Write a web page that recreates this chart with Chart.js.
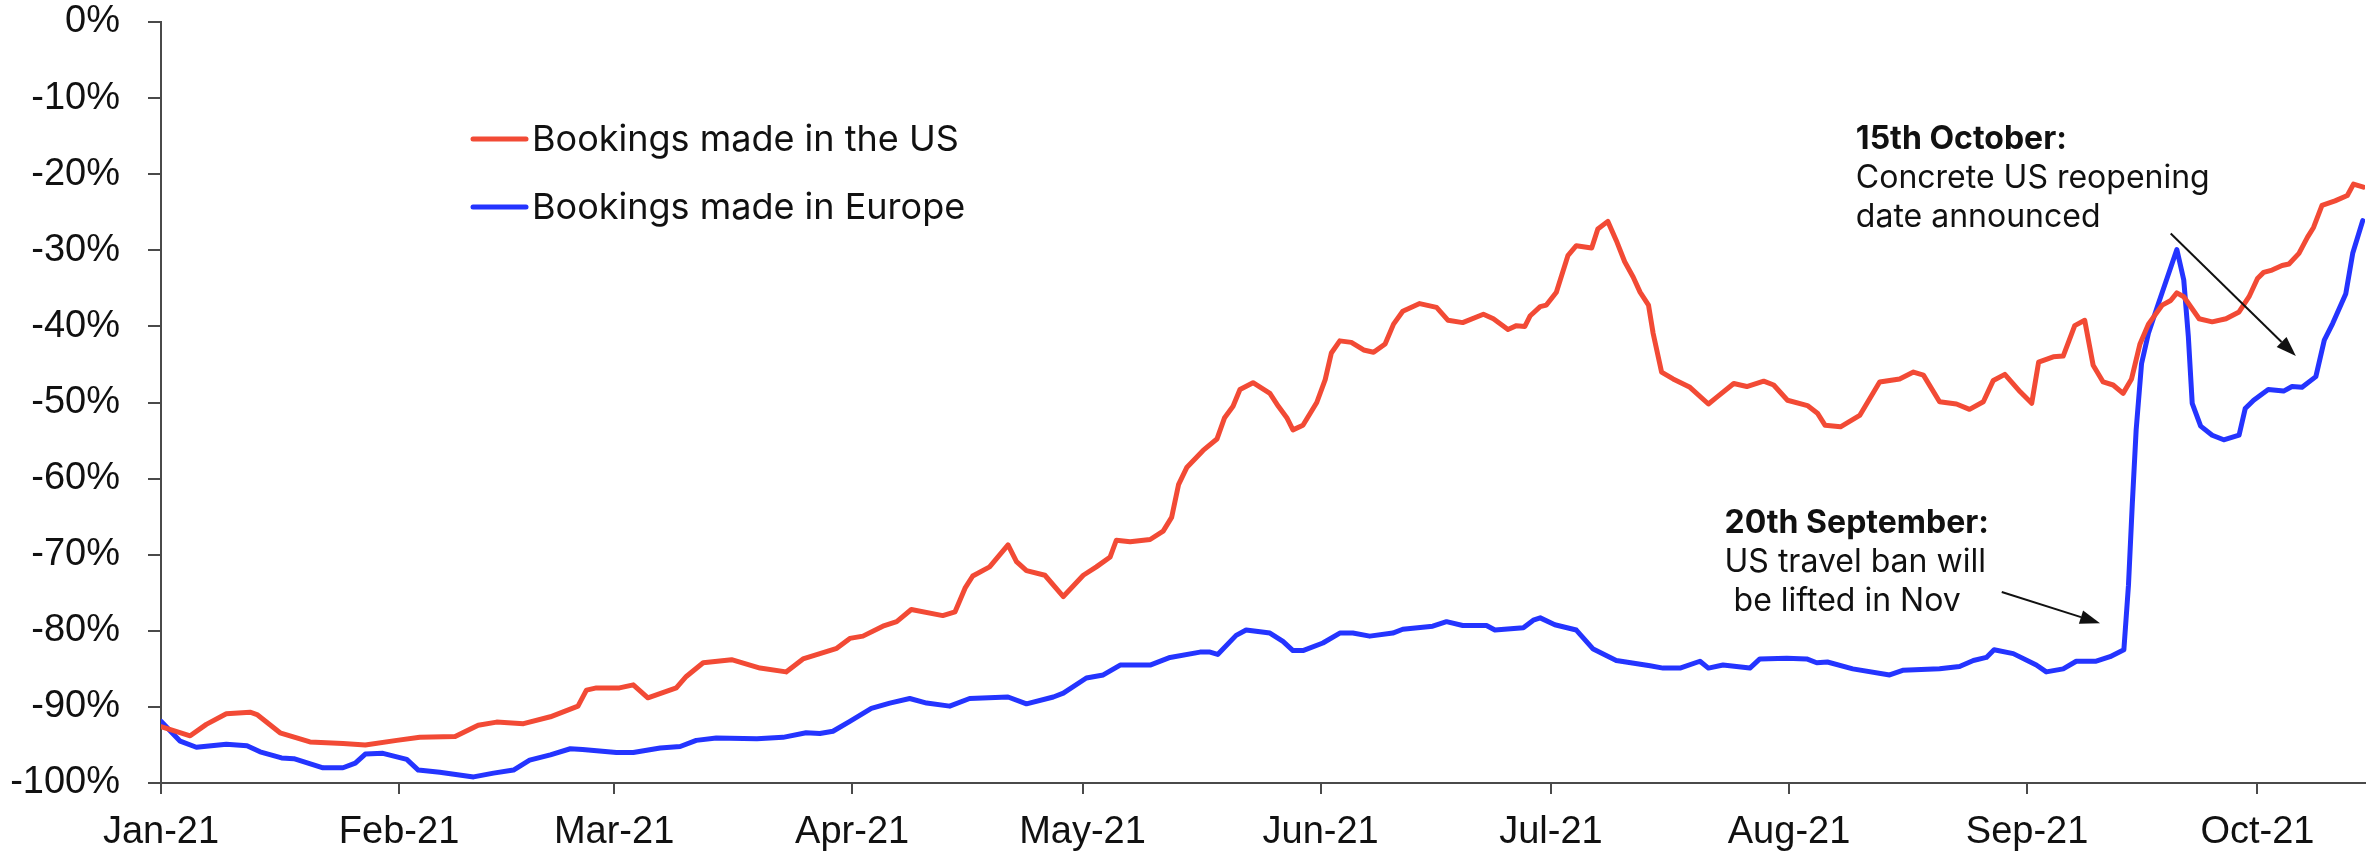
<!DOCTYPE html>
<html>
<head>
<meta charset="utf-8">
<title>Bookings vs 2019</title>
<script src="https://cdn.jsdelivr.net/npm/chart.js@4.4.1/dist/chart.umd.min.js"></script>
<style>
  html, body { margin: 0; padding: 0; background: #fff; }
  #wrap { width: 2369px; height: 858px; position: relative; }
</style>
</head>
<body>
<div id="wrap"><canvas id="chart"></canvas></div>
<script>
// ── Data (day index from 1 Jan 2021, % change) ─────────────────────────────
const monthTicks  = [0, 31, 59, 90, 120, 151, 181, 212, 243, 273];
const monthLabels = ['Jan-21', 'Feb-21', 'Mar-21', 'Apr-21', 'May-21', 'Jun-21', 'Jul-21', 'Aug-21', 'Sep-21', 'Oct-21'];

const usDays = [
  0, 3.8, 5.9, 8.5, 11.6, 12.5, 15.5, 19.4, 23.7, 26.6, 30.7, 33.7, 38.3, 41.3, 43.7, 47.2,
  50.7, 54.3, 55.4, 56.7, 59.7, 61.5, 63.4, 67.1, 68.4, 70.6, 74.3, 78, 81.4, 83.6, 88,
  89.7, 91.4, 94, 95.8, 97.7, 101.8, 103.4, 104.7, 105.7, 107.9, 110.3, 111.4, 112.7, 115.1,
  117.5, 120.1, 121.8, 123.6, 124.4, 126.2, 128.8, 130.5, 131.6, 132.5, 133.6, 135.7, 137.5,
  138.5, 139.6, 140.5, 142.2, 144.4, 145.5, 146.6, 147.4, 148.7, 150.5, 151.6, 152.4, 153.5,
  155, 156.6, 157.9, 159.4, 160.5, 161.7, 163.9, 166.1, 167.6, 169.5, 172.2, 173.5, 175.4,
  176.5, 177.6, 178.3, 179.6, 180.4, 181.7, 183.2, 184.3, 186.3, 187.1, 188.4, 189.5, 190.6,
  191.7, 192.6, 193.7, 194.3, 195.4, 196.9, 199.1, 201.5, 202.6, 204.8, 206.5, 208.7, 210,
  211.8, 214.4, 215.7, 216.7, 218.7, 221.2, 223.8, 226.4, 228.2, 229.5, 231.6, 233.8, 235.5,
  237.3, 238.6, 240.1, 242.1, 243.6, 244.5, 246.4, 247.7, 249.2, 250.5, 251.6, 252.9, 254.2,
  255.5, 256.6, 257.7, 258.8, 260.6, 261.7, 262.5, 263.4, 265.4, 267.1, 268.9, 270.6, 271.9,
  273, 273.8, 274.9, 276.2, 277.1, 278.4, 279.5, 280.3, 281.4, 283.1, 284.7, 285.5, 286.8
];
const usValues = [
  -92.6, -93.8, -92.3, -90.9, -90.7, -91.0, -93.4, -94.6, -94.8, -95.0, -94.4, -94.0, -93.9, -92.4, -92.0, -92.2,
  -91.3, -89.9, -87.8, -87.5, -87.5, -87.1, -88.8, -87.5, -86.0, -84.2, -83.8, -84.9, -85.4, -83.7, -82.3,
  -81.0, -80.7, -79.4, -78.8, -77.2, -78.0, -77.5, -74.4, -72.8, -71.6, -68.7, -70.9, -72.1, -72.7,
  -75.5, -72.7, -71.6, -70.3, -68.1, -68.3, -68.0, -66.9, -65.1, -60.8, -58.5, -56.3, -54.8,
  -52.0, -50.5, -48.3, -47.4, -48.8, -50.5, -52.0, -53.6, -53.0, -50.0, -47.0, -43.5, -41.9,
  -42.1, -43.1, -43.4, -42.3, -39.7, -38.0, -37.0, -37.5, -39.2, -39.5, -38.4, -39.0, -40.4,
  -39.9, -40.0, -38.6, -37.4, -37.2, -35.5, -30.7, -29.4, -29.7, -27.2, -26.2, -28.7, -31.5,
  -33.5, -35.5, -37.2, -40.9, -46.0, -46.9, -48.0, -50.2, -49.3, -47.5, -47.9, -47.2, -47.7,
  -49.7, -50.4, -51.4, -53.0, -53.2, -51.7, -47.3, -46.9, -46.0, -46.4, -49.9, -50.2, -50.9,
  -49.9, -47.1, -46.3, -48.6, -50.1, -44.7, -44.0, -43.9, -39.9, -39.2, -45.1, -47.3, -47.7,
  -48.8, -46.9, -42.3, -39.7, -37.2, -36.6, -35.6, -36.1, -39.0, -39.4, -39.0, -38.1, -36.1,
  -33.7, -32.9, -32.6, -32.0, -31.8, -30.4, -28.3, -27.0, -24.1, -23.5, -22.8, -21.3, -21.7
];

const euDays = [
  0, 2.5, 4.6, 8.5, 11.2, 12.9, 15.7, 17.3, 21.1, 23.7, 25.3, 26.6, 28.9, 32, 33.5, 36.3,
  40.7, 43.3, 45.9, 48, 50.7, 53.3, 54.9, 59.3, 61.5, 65, 67.6, 69.7, 72.3, 77.6, 81, 84,
  85.8, 87.5, 89.7, 92.5, 94.9, 97.5, 99.7, 102.7, 105.3, 110.3, 112.7, 116.2, 117.5, 120.5,
  122.7, 124.9, 128.8, 131.4, 135.3, 136.6, 137.6, 140, 141.3, 144.4, 146.1, 147.4, 148.7,
  151.3, 153.5, 155.2, 157.4, 160.4, 161.7, 165.6, 167.4, 169.5, 172.6, 173.7, 177.4, 178.7,
  179.6, 181.5, 184.3, 186.5, 189.5, 193.9, 195.6, 197.8, 200.4, 201.5, 203.4, 206.9, 208.2,
  211.7, 214.3, 215.6, 217, 220.3, 225.1, 226.8, 231.6, 234.2, 236, 237.7, 238.7, 241.2,
  244.2, 245.5, 247.7, 249.4, 252, 253.8, 255.6, 256.2, 256.7, 257.2, 257.9, 258.8, 260.1,
  262.5, 263.4, 264, 264.5, 265.6, 267.1, 268.6, 270.6, 271.4, 272.5, 274.4, 276.4, 277.5,
  278.8, 280.6, 281.7, 282.8, 284.5, 285.4, 286.7
];
const euValues = [
  -91.9, -94.5, -95.3, -94.9, -95.1, -95.9, -96.7, -96.8, -98.0, -98.0, -97.4, -96.2, -96.1, -96.9, -98.3, -98.6,
  -99.2, -98.7, -98.3, -97.0, -96.3, -95.5, -95.6, -96.0, -96.0, -95.4, -95.2, -94.4, -94.1, -94.2, -94.0, -93.4,
  -93.5, -93.2, -91.9, -90.2, -89.5, -88.9, -89.5, -89.9, -88.9, -88.7, -89.6, -88.7, -88.2, -86.2,
  -85.8, -84.5, -84.5, -83.5, -82.8, -82.8, -83.1, -80.6, -79.9, -80.3, -81.4, -82.6, -82.6,
  -81.6, -80.3, -80.3, -80.7, -80.3, -79.8, -79.4, -78.8, -79.3, -79.3, -79.9, -79.6, -78.6,
  -78.3, -79.2, -79.9, -82.4, -83.9, -84.6, -84.9, -84.9, -84.0, -84.9, -84.5, -84.9, -83.7,
  -83.6, -83.7, -84.2, -84.1, -85.0, -85.8, -85.2, -85.0, -84.7, -83.9, -83.5, -82.5, -83.0,
  -84.5, -85.4, -85.0, -84.0, -84.0, -83.4, -82.5, -74.0, -63.3, -53.6, -44.9, -40.9, -37.0,
  -29.9, -33.9, -41.4, -50.1, -53.1, -54.3, -54.9, -54.3, -50.8, -49.7, -48.3, -48.5, -47.9,
  -48.0, -46.6, -41.8, -39.6, -35.7, -30.4, -26.1
];

// ── Styling ───────────────────────────────────────────────────────────────
const US_COLOR = '#f24a35';
const EU_COLOR = '#2434ff';
const AXIS_COLOR = '#4a4a4a';
const TICK_FONT = { family: "'Liberation Sans', Arial, sans-serif", size: 38 };
const NOTE_FONT = "Inter, 'Noto Sans', sans-serif";

const legendItems = [
  { label: 'Bookings made in the US', color: US_COLOR },
  { label: 'Bookings made in Europe', color: EU_COLOR },
];

// Annotations anchored in data units (day, %)
const notes = [
  { day: 220.7, value: -16.7, lines: ['15th October:', 'Concrete US reopening', 'date announced'] },
  { day: 203.6, value: -67.1, lines: ['20th September:', 'US travel ban will', ' be lifted in Nov'] },
];
const arrows = [
  { from: [261.7, -27.8], to: [278.0, -43.9] },
  { from: [239.7, -74.9], to: [252.5, -79.0] },
];

const toPoints = (xs, ys) => xs.map((x, i) => ({ x, y: ys[i] }));

/** Legend + annotation text + arrows drawn on top of the series */
const overlayPlugin = {
  id: 'overlay',
  afterDatasetsDraw(chart) {
    const { ctx, scales: { x, y } } = chart;
    ctx.save();

    // legend
    legendItems.forEach((item, i) => {
      const ly = 139 + i * 68;
      ctx.strokeStyle = item.color;
      ctx.lineWidth = 5;
      ctx.lineCap = 'round';
      ctx.beginPath();
      ctx.moveTo(473, ly);
      ctx.lineTo(526, ly);
      ctx.stroke();
      ctx.fillStyle = '#111';
      ctx.font = `36px ${NOTE_FONT}`;
      ctx.textBaseline = 'middle';
      ctx.textAlign = 'left';
      ctx.fillText(item.label, 532, ly + 1);
    });

    // annotation text
    ctx.textBaseline = 'alphabetic';
    notes.forEach(note => {
      const px = x.getPixelForValue(note.day);
      const py = y.getPixelForValue(note.value);
      note.lines.forEach((line, i) => {
        ctx.font = `${i === 0 ? '700 ' : ''}32px ${NOTE_FONT}`;
        ctx.fillStyle = '#111';
        ctx.fillText(line, px, py + i * 39);
      });
    });

    // arrows
    ctx.strokeStyle = '#111';
    ctx.fillStyle = '#111';
    ctx.lineWidth = 2;
    ctx.lineCap = 'butt';
    arrows.forEach(a => {
      const x1 = x.getPixelForValue(a.from[0]), y1 = y.getPixelForValue(a.from[1]);
      const x2 = x.getPixelForValue(a.to[0]),   y2 = y.getPixelForValue(a.to[1]);
      const ang = Math.atan2(y2 - y1, x2 - x1);
      const head = 20, half = 7;
      const bx = x2 - head * Math.cos(ang), by = y2 - head * Math.sin(ang);
      ctx.beginPath();
      ctx.moveTo(x1, y1);
      ctx.lineTo(bx, by);
      ctx.stroke();
      ctx.beginPath();
      ctx.moveTo(x2, y2);
      ctx.lineTo(bx + half * Math.sin(ang), by - half * Math.cos(ang));
      ctx.lineTo(bx - half * Math.sin(ang), by + half * Math.cos(ang));
      ctx.closePath();
      ctx.fill();
    });

    ctx.restore();
  },
};

new Chart(document.getElementById('chart'), {
  type: 'line',
  data: {
    datasets: [
      {
        label: 'Bookings made in the US',
        data: toPoints(usDays, usValues),
        borderColor: US_COLOR,
        borderWidth: 5,
        pointRadius: 0,
        tension: 0,
        borderJoinStyle: 'round',
        borderCapStyle: 'round',
      },
      {
        label: 'Bookings made in Europe',
        data: toPoints(euDays, euValues),
        borderColor: EU_COLOR,
        borderWidth: 5,
        pointRadius: 0,
        tension: 0,
        borderJoinStyle: 'round',
        borderCapStyle: 'round',
      },
    ],
  },
  options: {
    responsive: true,
    maintainAspectRatio: false,
    animation: false,
    devicePixelRatio: 1,
    layout: { padding: { top: 0, right: 4, left: 0, bottom: 0 } },
    plugins: { legend: { display: false }, tooltip: { enabled: false } },
    scales: {
      x: {
        type: 'linear',
        min: 0,
        max: 287,
        afterBuildTicks: (scale) => { scale.ticks = monthTicks.map(v => ({ value: v })); },
        afterFit: (scale) => { scale.height = 75; },
        ticks: {
          font: TICK_FONT,
          color: '#111',
          padding: 16,
          maxRotation: 0,
          autoSkip: false,
          callback: (v) => monthLabels[monthTicks.indexOf(v)] ?? '',
        },
        grid: { drawOnChartArea: false, drawTicks: true, tickLength: 11, color: AXIS_COLOR, lineWidth: 2 },
        border: { display: true, color: AXIS_COLOR, width: 2 },
      },
      y: {
        min: -100,
        max: 0,
        afterFit: (scale) => { scale.width = 161; scale.paddingTop = 22; },
        ticks: {
          stepSize: 10,
          font: TICK_FONT,
          color: '#111',
          padding: 28,
          callback: (v) => `${v}%`,
        },
        grid: { drawOnChartArea: false, drawTicks: true, tickLength: 13, color: AXIS_COLOR, lineWidth: 2 },
        border: { display: true, color: AXIS_COLOR, width: 2 },
      },
    },
  },
  plugins: [overlayPlugin],
});
</script>
</body>
</html>
